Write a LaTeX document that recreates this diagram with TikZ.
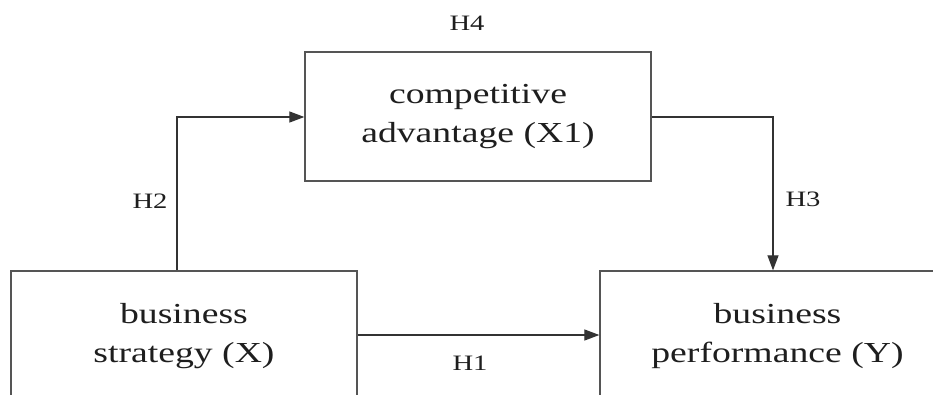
\documentclass[tikz,border=0pt]{standalone}
\usepackage{fontspec}
\setmainfont{Liberation Serif}[FakeStretch=1.3]
\usetikzlibrary{arrows.meta}
\definecolor{boxline}{RGB}{85,85,85}
\definecolor{txt}{RGB}{30,30,30}
\tikzset{
  varbox/.style={draw=boxline, line width=1.3pt, align=center, inner sep=0pt,
    text=txt, font=\fontsize{29}{39}\selectfont},
  hlabel/.style={text=txt, font=\fontsize{22}{24}\selectfont, inner sep=0pt},
  link/.style={draw=black!80, line width=1.2pt, -{Triangle[length=15pt,width=11pt]}}
}
\begin{document}
\begin{tikzpicture}[x=1pt,y=-1pt]
\clip (0,0) rectangle (933,394);
\fill[white] (0,0) rectangle (933,394);
\node[varbox, minimum width=346pt, minimum height=129pt] (ca) at (478,116.5) {competitive\\advantage (X1)};
\node[varbox, minimum width=346pt, minimum height=130pt] (bs) at (184,336) {business\\strategy (X)};
\node[varbox, minimum width=355pt, minimum height=130pt] (bp) at (777.5,336) {business\\performance (Y)};
\coordinate (c2) at (177,117);
\coordinate (c3) at (773,117);
\draw[link] (bs.north -| c2) -- (c2) -- (ca.west |- c2);
\draw[link] (ca.east |- c3) -- (c3) -- (bp.north -| c3);
\draw[link] (bs.east |- 0,335) -- (bp.west |- 0,335);
\node[hlabel] (h4) at (467,23) {H4};
\node[hlabel] (h2) at (150,201) {H2};
\node[hlabel] (h3) at (803,199) {H3};
\node[hlabel] (h1) at (470,363) {H1};
\end{tikzpicture}
\end{document}
